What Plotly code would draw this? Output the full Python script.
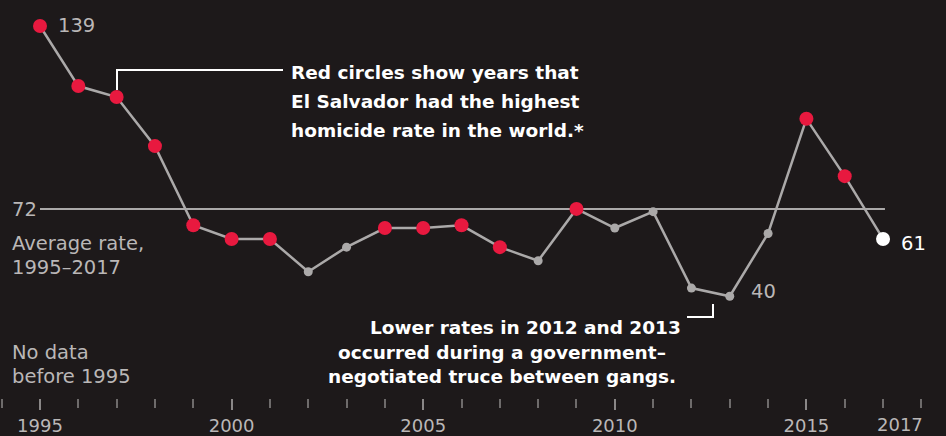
import plotly.graph_objects as go

years = list(range(1995, 2018))
rates = [139, 117, 113, 95, 66, 61, 61, 49, 58, 65, 65, 66, 58, 53, 72,
         65, 71, 43, 40, 63, 105, 84, 61]
# years when El Salvador had the highest homicide rate in the world
top_years = [1995, 1996, 1997, 1998, 1999, 2000, 2001, 2004, 2005, 2006,
             2007, 2009, 2015, 2016]
average = 72
tick_years = [1995, 2000, 2005, 2010, 2015]

BG = '#1d191a'
RED = '#e8193f'
LINE = '#aba9a9'
GREY_TXT = '#bab7b7'
FONT = 'DejaVu Sans'

W, H_PLOT = 946, 398


def px(x):
    return x / W


def py(y):
    return 1 - y / H_PLOT


red_x = [y for y in years if y in top_years]
red_y = [r for y, r in zip(years, rates) if y in top_years]
grey_x = [y for y in years[:-1] if y not in top_years]
grey_y = [r for y, r in zip(years[:-1], rates[:-1]) if y not in top_years]

fig = go.Figure()

fig.add_shape(type='line', x0=1995, x1=2017.05, y0=average, y1=average,
              line=dict(color=LINE, width=2), layer='below')

fig.add_trace(go.Scatter(x=years, y=rates, mode='lines',
                         line=dict(color=LINE, width=2.5), hoverinfo='skip'))
fig.add_trace(go.Scatter(x=grey_x, y=grey_y, mode='markers',
                         marker=dict(color=LINE, size=9)))
fig.add_trace(go.Scatter(x=red_x, y=red_y, mode='markers',
                         marker=dict(color=RED, size=14)))
fig.add_trace(go.Scatter(x=years[-1:], y=rates[-1:], mode='markers',
                         marker=dict(color='white', size=14)))

# leader lines
fig.add_shape(type='path', xref='paper', yref='paper',
              path=f'M {px(117)},{py(90)} L {px(117)},{py(70)} L {px(283)},{py(70)}',
              line=dict(color='white', width=2))
fig.add_shape(type='path', xref='paper', yref='paper',
              path=f'M {px(687)},{py(317)} L {px(713)},{py(317)} L {px(713)},{py(304)}',
              line=dict(color='white', width=2))

def txt(text, x, y, color, size=19.5, anchor='left', bold=False):
    fig.add_annotation(text=f'<b>{text}</b>' if bold else text,
                       x=px(x), y=py(y), xref='paper', yref='paper',
                       xanchor=anchor, yanchor='middle', showarrow=False,
                       font=dict(family=FONT, size=size, color=color))

for i, line in enumerate(['Red circles show years that',
                          'El Salvador had the highest',
                          'homicide rate in the world.*']):
    txt(line, 289, 73 + i * 28.5, 'white', size=18.5, bold=True)

txt('Lower rates in 2012 and 2013', 525, 327, 'white', size=18.5,
    anchor='center', bold=True)
txt('occurred during a government–', 502, 352, 'white', size=18.5,
    anchor='center', bold=True)
txt('negotiated truce between gangs.', 502, 376, 'white', size=18.5,
    anchor='center', bold=True)

txt(str(rates[0]), 56, 26, GREY_TXT)
txt(str(rates[years.index(2013)]), 749, 291, GREY_TXT)
txt(str(rates[-1]), 899, 243, 'white')
txt(str(average), 10, 210, GREY_TXT)
txt('Average rate,', 10, 243, GREY_TXT)
txt('1995–2017', 10, 267, GREY_TXT)
txt('No data', 10, 352, GREY_TXT)
txt('before 1995', 10, 376, GREY_TXT)
txt('2017', 900, 424, GREY_TXT, size=18, anchor='center')

fig.update_layout(
    width=W, height=436,
    margin=dict(l=0, r=0, t=0, b=436 - H_PLOT),
    paper_bgcolor=BG, plot_bgcolor=BG,
    showlegend=False,
    xaxis=dict(range=[1995 - 40 / 38.32, 1995 + (W - 40) / 38.32],
               showgrid=False, zeroline=False, showline=False,
               tickvals=tick_years, ticks='outside', ticklen=11, tickwidth=2,
               tickcolor='#8a8787',
               minor=dict(dtick=1, tick0=1994, ticks='outside', ticklen=9,
                          tickwidth=2, tickcolor='#6e6b6b', showgrid=False),
               tickfont=dict(family=FONT, size=18, color=GREY_TXT),
               fixedrange=True),
    yaxis=dict(range=[139 - 372 / 2.73, 139 + 26 / 2.73], visible=False,
               fixedrange=True),
)

fig.write_html('out.html', config={'displayModeBar': False},
               post_script="document.body.style.margin='0';"
                           "document.body.style.background='" + BG + "';")
